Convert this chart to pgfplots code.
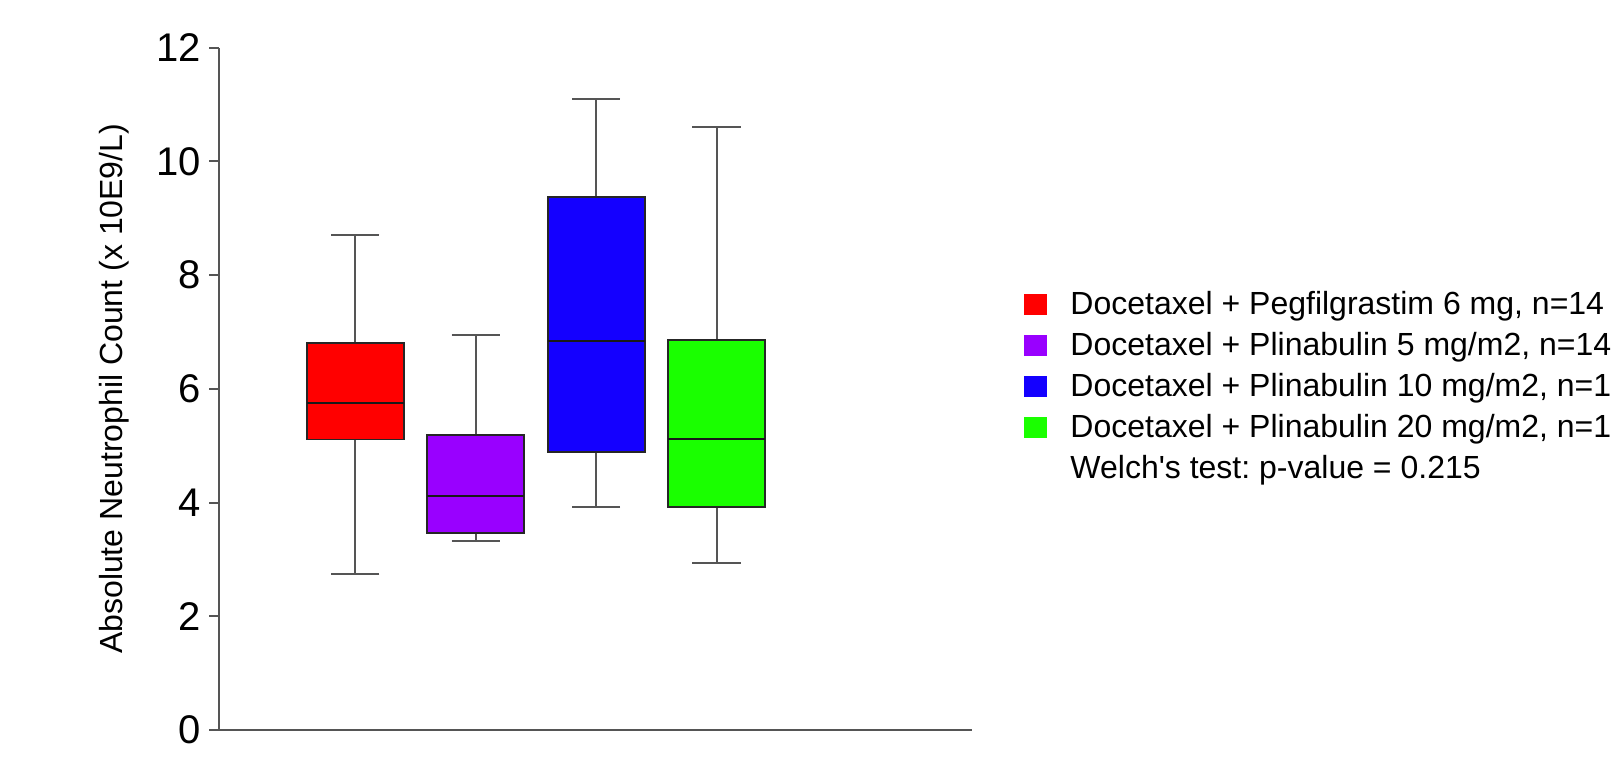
\documentclass[border=0pt]{standalone}
\usepackage{pgfplots}
\pgfplotsset{compat=1.18}
\usepgfplotslibrary{statistics}
\usepackage{fontspec}
\setmainfont{Liberation Sans}[Ligatures=TeXOff]
\definecolor{cRed}{RGB}{255,0,0}
\definecolor{cPurple}{RGB}{153,0,255}
\definecolor{cBlue}{RGB}{20,0,255}
\definecolor{cGreen}{RGB}{26,255,0}
\definecolor{axisgray}{RGB}{85,85,85}
\frenchspacing
\begin{document}
\begin{tikzpicture}
\clip (0,0) rectangle (807.5pt,378.5pt);
\begin{axis}[
  at={(109.65pt,13.5pt)}, anchor=south west,
  scale only axis, width=376.5pt, height=341.15pt,
  xmin=-0.1296, xmax=6.124, ymin=0, ymax=12,
  ytick={0,2,...,12}, xtick=\empty,
  axis x line*=bottom, axis y line*=left,
  axis line style={draw=axisgray, line width=1pt, -},
  x axis line style={shorten <=-4.5pt},
  tick align=outside, ytick pos=left, major tick length=5pt,
  tick style={draw=axisgray, line width=1pt},
  yticklabel style={font=\fontsize{20}{24}\selectfont, xshift=-0.5pt},
  /pgf/number format/assume math mode=true,
  ylabel={Absolute Neutrophil Count (x 10E9/L)},
  ylabel style={font=\fontsize{16}{19}\selectfont, at={(axis description cs:-0.14,0.5)}, anchor=center},
  clip=false,
  boxplot/draw direction=y,
  boxplot/every whisker/.style={draw=axisgray, line width=1pt},
  boxplot/every box/.style={draw=black!85, line width=0.9pt},
  boxplot/every median/.style={draw=black!90, line width=1pt},
  legend cell align=left,
  legend style={at={(axis description cs:1.0677,0.645)}, anchor=north west,
    draw=none, fill=none, font=\fontsize{16}{19}\selectfont,
    row sep=5.05pt, inner sep=0pt,
    nodes={inner sep=0pt, text height=12pt, text depth=3.5pt},
    /tikz/every odd column/.append style={column sep=11.8pt}},
  sq/.style={legend image code/.code={\fill[#1] (0pt,-4.2pt) rectangle (11.2pt,5.8pt);}},
  bx/.style={boxplot prepared={#1, box extend=0.805, whisker extend=0.4},
    draw=black, forget plot},
]
\addplot[bx={draw position=1, lower whisker=2.74, lower quartile=5.11, median=5.75, upper quartile=6.81, upper whisker=8.71}, fill=cRed] coordinates {};
\addplot[bx={draw position=2, lower whisker=3.32, lower quartile=3.46, median=4.11, upper quartile=5.19, upper whisker=6.94}, fill=cPurple] coordinates {};
\addplot[bx={draw position=3, lower whisker=3.92, lower quartile=4.89, median=6.85, upper quartile=9.38, upper whisker=11.10}, fill=cBlue] coordinates {};
\addplot[bx={draw position=4, lower whisker=2.93, lower quartile=3.92, median=5.11, upper quartile=6.86, upper whisker=10.60}, fill=cGreen] coordinates {};
\addlegendimage{sq=cRed}
\addlegendentry{Docetaxel + Pegfilgrastim 6 mg, n=14}
\addlegendimage{sq=cPurple}
\addlegendentry{Docetaxel + Plinabulin 5 mg/m2, n=14}
\addlegendimage{sq=cBlue}
\addlegendentry{Docetaxel + Plinabulin 10 mg/m2, n=1}
\addlegendimage{sq=cGreen}
\addlegendentry{Docetaxel + Plinabulin 20 mg/m2, n=1}
\addlegendimage{empty legend}
\addlegendentry{Welch's test: p-value = 0.215}
\end{axis}
\end{tikzpicture}
\end{document}
